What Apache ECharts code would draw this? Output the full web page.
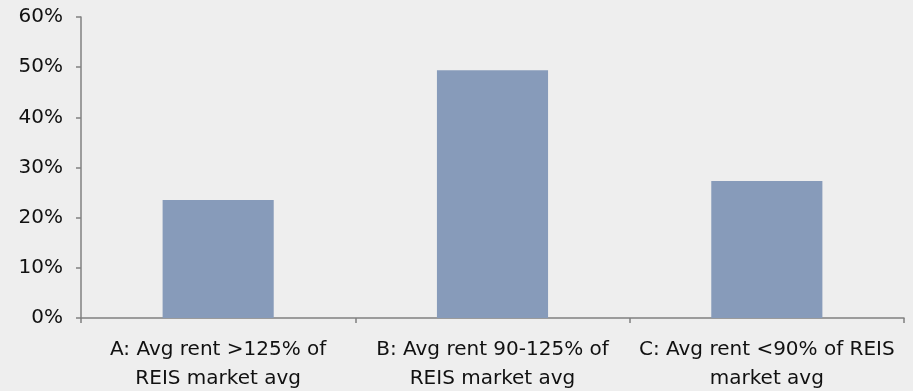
<!DOCTYPE html>
<html>
<head>
<meta charset="utf-8">
<script src="https://cdn.jsdelivr.net/npm/echarts@6/dist/echarts.min.js"></script>
<style>
html,body{margin:0;padding:0;background:#eeeeee;}
#chart{width:913px;height:391px;}
</style>
</head>
<body>
<div id="chart"></div>
<script>
const categories = [
  "A: Avg rent >125% of\nREIS market avg",
  "B: Avg rent 90-125% of\nREIS market avg",
  "C: Avg rent <90% of REIS\nmarket avg"
];
const values = [23.5, 49.4, 27.3];
const yTicks = [0, 10, 20, 30, 40, 50, 60];

const chart = echarts.init(document.getElementById('chart'), null, {renderer: 'canvas'});
chart.setOption({
  backgroundColor: '#eeeeee',
  animation: false,
  grid: {left: 81, right: 9, top: 17, bottom: 73, containLabel: false, outerBoundsMode: 'none'},
  xAxis: {
    type: 'category',
    data: categories,
    axisLine: {show: true, lineStyle: {color: '#808080', width: 1.5}},
    axisTick: {show: true, alignWithLabel: false, length: 5, lineStyle: {color: '#808080', width: 1.5}},
    axisLabel: {
      interval: 0, margin: 17, color: '#111111',
      fontFamily: 'DejaVu Sans', fontSize: 20, lineHeight: 29, align: 'center'
    },
    splitLine: {show: false}
  },
  yAxis: {
    type: 'value',
    min: yTicks[0], max: yTicks[yTicks.length - 1], interval: 10,
    axisLine: {show: true, lineStyle: {color: '#808080', width: 1.5}},
    axisTick: {show: true, length: 5, lineStyle: {color: '#808080', width: 1.5}},
    axisLabel: {
      margin: 18, color: '#111111',
      fontFamily: 'DejaVu Sans', fontSize: 20,
      formatter: v => v + '%'
    },
    splitLine: {show: false}
  },
  series: [{
    type: 'bar',
    data: values,
    barCategoryGap: '59.5%',
    itemStyle: {color: '#879bba'}
  }]
});
</script>
</body>
</html>
